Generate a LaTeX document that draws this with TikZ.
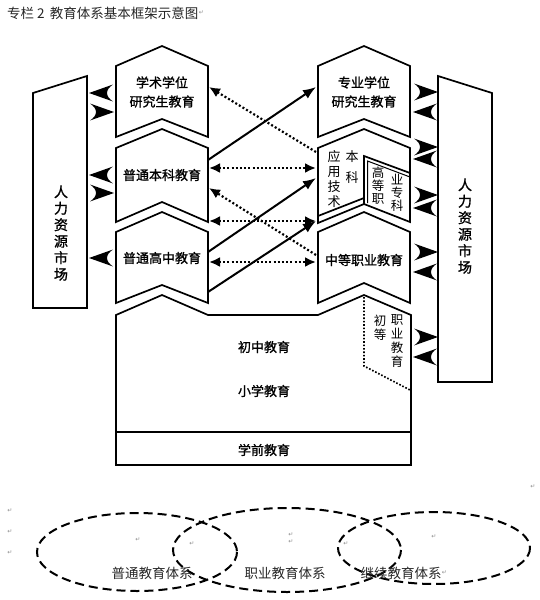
\documentclass[tikz,border=0pt]{standalone}
\usepackage{fontspec}
\newfontfamily\cjk{Noto Sans CJK SC}
\newfontfamily\cjkb[FakeBold=1.2]{Noto Sans CJK SC}
\newfontfamily\djv{DejaVu Sans}
\usetikzlibrary{arrows.meta}
\tikzset{
  pics/bighead/.style={code={\fill (0,0) -- (-24,-8.5) .. controls (-16,-3) and (-16,3) .. (-24,8.5) -- cycle;}},
}
\begin{document}
\begin{tikzpicture}[x=1pt,y=-1pt,
  box/.style={draw=black,line width=1.7pt,line join=miter,fill=white},
  lbl/.style={font=\cjkb\fontsize{13}{15}\selectfont,inner sep=0pt,align=center},
  hrlbl/.style={font=\cjkb\fontsize{14}{16.5}\selectfont,inner sep=0pt,align=center},
  solidarr/.style={line width=2pt,-{Latex[length=13pt,width=10pt]}},
  dotarr/.style={line width=2.2pt,dash pattern=on 2pt off 2.2pt,-{Latex[length=11pt,width=10pt]}},
  dotdbl/.style={dotarr,{Latex[length=11pt,width=10pt]}-{Latex[length=11pt,width=10pt]}},
  pmark/.style={font=\djv\fontsize{6}{6}\selectfont,text=black!45,inner sep=0pt},
  ell/.style={draw=black,line width=2pt,dash pattern=on 9pt off 5pt},
  elbl/.style={font=\cjk\fontsize{13.5}{15}\selectfont,text=black!85,inner sep=0pt},
]
\useasboundingbox (0,0) rectangle (540,600);

% title
\node[anchor=west,font=\cjk\fontsize{13.5}{15}\selectfont,text=black!85,inner sep=0pt] (title) at (7,13) {专栏 2\, 教育体系基本框架示意图};
\node[pmark,anchor=west] (pm0) at (title.east) {↵};

% human resource market boxes
\draw[box] (33,93) -- (87,76) -- (87,308) -- (33,308) -- cycle;
\node[hrlbl] (hrL) at (61,233) {人\\力\\资\\源\\市\\场};
\draw[box] (438,76) -- (492,93) -- (492,382) -- (438,382) -- cycle;
\node[hrlbl] (hrR) at (465,226) {人\\力\\资\\源\\市\\场};

% left column
\draw[box] (116,66) -- (162,46) -- (208,66) -- (208,137) -- (162,119) -- (116,137) -- cycle;
\node[lbl] (xs) at (162,92) {学术学位\\[4pt]研究生教育};
\draw[box] (116,148) -- (162,129) -- (208,148) -- (208,222) -- (162,202) -- (116,222) -- cycle;
\node[lbl] (bk) at (162,175) {普通本科教育};
\draw[box] (116,232) -- (162,212) -- (208,232) -- (208,303) -- (162,285) -- (116,303) -- cycle;
\node[lbl] (gz) at (162,258) {普通高中教育};

% right column
\draw[box] (318,66) -- (364,46) -- (410,66) -- (410,137) -- (364,119) -- (318,137) -- cycle;
\node[lbl] (zy) at (364,92) {专业学位\\[4pt]研究生教育};
\draw[box] (318,148) -- (364,129) -- (410,148) -- (410,222) -- (364,204) -- (318,223) -- cycle;
\draw[line width=1.7pt] (318,216) -- (364,198);
\draw[line width=1.7pt,line join=miter] (364,204) -- (364,156) -- (410,173);
\draw[line width=1pt] (367.5,203) -- (367.5,161) -- (410,177);
\node[font=\cjk\fontsize{13}{15}\selectfont,inner sep=0pt,align=center] (yy) at (334,179) {应\\用\\技\\术};
\node[font=\cjk\fontsize{13}{21}\selectfont,inner sep=0pt,align=center] (bkR) at (352,167.5) {本\\科};
\node[font=\cjk\fontsize{12.5}{13}\selectfont,inner sep=0pt,align=center] (gd) at (378,186) {高\\等\\职};
\node[font=\cjk\fontsize{12.5}{13}\selectfont,inner sep=0pt,align=center] (zk) at (397,193) {业\\专\\科};
\draw[box] (318,232) -- (364,212) -- (410,232) -- (410,303) -- (364,283) -- (318,303) -- cycle;
\node[lbl] (zz) at (364,260) {中等职业教育};

% compulsory / preschool block
\draw[box] (116,315) -- (162,295) -- (208,315) -- (318,315) -- (364,295) -- (411,315) -- (411,465) -- (116,465) -- cycle;
\draw[line width=1.7pt] (116,432) -- (411,432);
\node[lbl] (cz) at (264,347) {初中教育};
\node[lbl] (xx) at (264,391) {小学教育};
\node[lbl] (xq) at (264,450) {学前教育};
\draw[line width=1.7pt,dash pattern=on 1.6pt off 1.8pt] (364,297) -- (364,366) -- (410,390);
\node[font=\cjk\fontsize{12.5}{14.5}\selectfont,inner sep=0pt,align=center] (cd) at (380,327.5) {初\\等};
\node[font=\cjk\fontsize{12.5}{14}\selectfont,inner sep=0pt,align=center] (zyjy) at (397,341) {职\\业\\教\\育};

% named anchor points for connectors
\coordinate (bkE1) at (208,160);
\coordinate (zyW) at (316,87);
\coordinate (gzE1) at (208,252);
\coordinate (yyW1) at (316,178);
\coordinate (gzE2) at (208,292);
\coordinate (gdW) at (316,221);
\coordinate (yyW0) at (316,152);
\coordinate (xsE) at (209,87);
\coordinate (bkE2) at (209,168);
\coordinate (yyW2) at (316,168);
\coordinate (zzW1) at (316,255);
\coordinate (bkE3) at (209,188);
\coordinate (bkE4) at (209,221);
\coordinate (gzE3) at (209,262);
\coordinate (zzW2) at (316,262);

% solid arrows
\draw[solidarr] (bkE1) -- (zyW);
\draw[solidarr] (gzE1) -- (yyW1);
\draw[solidarr] (gzE2) -- (gdW);
% dotted arrows
\draw[dotarr] (yyW0) -- (xsE);
\draw[dotdbl] (bkE2) -- (yyW2);
\draw[dotarr] (zzW1) -- (bkE3);
\draw[dotdbl] (bkE4) -- (gdW);
\draw[dotdbl] (gzE3) -- (zzW2);

% big heads, left
\pic[xscale=-1] at (89,93) {bighead};
\pic at (114,112) {bighead};
\pic[xscale=-1] at (89,175) {bighead};
\pic at (114,193) {bighead};
\pic[xscale=-1] at (89,258) {bighead};
% big heads, right
\foreach \y in {92,147,195,252,337} {\pic at (438,\y) {bighead};}
\foreach \y in {112,159,208,272,357} {\pic[xscale=-1] at (413,\y) {bighead};}

% bottom systems
\draw[ell] (137,552) ellipse [x radius=100,y radius=39];
\draw[ell] (287,550) ellipse [x radius=114,y radius=42];
\draw[ell] (434,548) ellipse [x radius=96,y radius=36];
\node[elbl] (pt) at (152,573) {普通教育体系};
\node[elbl] (zyt) at (285,573) {职业教育体系};
\node[elbl] (jx) at (401,573) {继续教育体系};
\node[pmark,anchor=west] (pm1) at (jx.east) {↵};

% paragraph marks
\node[pmark] (pm2) at (10,511) {↵};
\node[pmark] (pm3) at (10,532) {↵};
\node[pmark] (pm4) at (10,553) {↵};
\node[pmark] (pm5) at (533,487) {↵};
\node[pmark] (pm6) at (138,540) {↵};
\node[pmark] (pm7) at (192,544) {↵};
\node[pmark] (pm8) at (291,535) {↵};
\node[pmark] (pm9) at (291,542) {↵};
\node[pmark] (pm10) at (346,544) {↵};
\node[pmark] (pm11) at (434,537) {↵};
\end{tikzpicture}
\end{document}
